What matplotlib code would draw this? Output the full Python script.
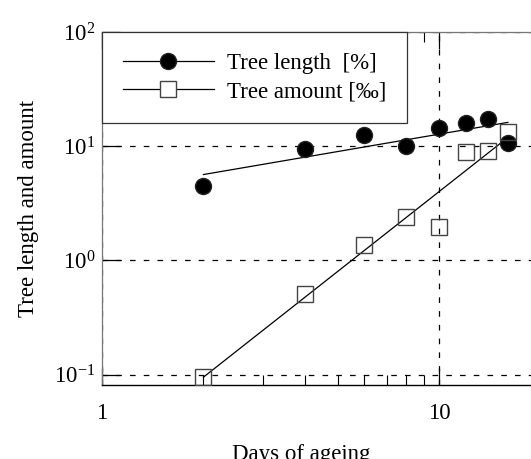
import matplotlib
matplotlib.use("Agg")
import matplotlib.pyplot as plt
import numpy as np
from matplotlib.ticker import FixedLocator, LogLocator, NullLocator, FuncFormatter

plt.rcParams['font.family'] = ['Liberation Serif', 'DejaVu Serif']
plt.rcParams['mathtext.fontset'] = 'custom'
plt.rcParams['mathtext.rm'] = 'Liberation Serif'
plt.rcParams['mathtext.it'] = 'Liberation Serif:italic'

days = np.array([2, 4, 6, 8, 10, 12, 14, 16])
tree_length = np.array([4.5, 9.4, 12.5, 10.0, 14.4, 15.9, 17.3, 10.6])
tree_amount = np.array([0.096, 0.51, 1.37, 2.38, 1.97, 8.9, 9.1, 13.3])

fs = 16.5

fig = plt.figure(figsize=(5.31, 4.59), dpi=100)
ax = fig.add_axes([0.1921, 0.1612, 0.8258, 0.7691])
ax.set_xscale('log')
ax.set_yscale('log')
ax.set_xlim(1, 20)
ax.set_ylim(10 ** -1.09, 100)

# power-law fits in log-log space
def fit_line(x, y):
    k, b = np.polyfit(np.log10(x), np.log10(y), 1)
    xx = np.logspace(np.log10(x.min()), np.log10(x.max()), 50)
    return xx, 10 ** (b + k * np.log10(xx))

xl, yl = fit_line(days, tree_length)
xa, ya = fit_line(days, tree_amount)

ax.plot(xl, yl, color='black', lw=0.9, zorder=3)
ax.plot(xa, ya, color='black', lw=0.9, zorder=3)
ax.plot(days, tree_length, 'o', ms=11.5, color='black', mec='#222222',
        zorder=4)
ax.plot(days, tree_amount, 's', ms=11.5, mfc='none', mec='#444444',
        mew=1.0, zorder=4)

# legend handles: line with marker in the middle
h1, = ax.plot([], [], '-o', color='black', lw=0.9, ms=11.5, mec='#222222')
h2, = ax.plot([], [], '-s', color='black', lw=0.9, ms=11.5, mfc='white',
              mec='#444444')
leg = ax.legend([h1, h2], ['Tree length  [%]', 'Tree amount [‰]'],
                loc='upper left', bbox_to_anchor=(0, 1), borderaxespad=0,
                fontsize=fs, numpoints=1, handlelength=4.0,
                handletextpad=0.55, borderpad=0.9, labelspacing=0.33,
                fancybox=False, framealpha=1, edgecolor='#333333')
leg.get_frame().set_linewidth(0.9)
leg.set_zorder(5)

# dashed grid at the decades
for yv in [0.1, 1, 10, 100]:
    ax.axhline(yv, color='black', lw=0.9, dashes=(4.5, 6.5), zorder=2)
for xv in [1, 10]:
    ax.axvline(xv, color='black', lw=0.9, dashes=(4.5, 6.5), zorder=2)

for side in ['left', 'top']:
    ax.spines[side].set_color('#777777')
    ax.spines[side].set_linewidth(0.9)
ax.spines['bottom'].set_linewidth(1.0)
ax.spines['right'].set_visible(False)

ax.xaxis.set_major_locator(FixedLocator([1, 10]))
ax.xaxis.set_minor_locator(LogLocator(base=10, subs=np.arange(2, 10)))
ax.xaxis.set_major_formatter(FuncFormatter(lambda v, p: '%g' % v))
ax.xaxis.set_minor_formatter(FuncFormatter(lambda v, p: ''))
ax.yaxis.set_major_locator(FixedLocator([0.1, 1, 10, 100]))
ax.yaxis.set_minor_locator(NullLocator())
ax.yaxis.set_major_formatter(FuncFormatter(
    lambda v, p: r'$\mathregular{10^{%d}}$' % round(np.log10(v))))

ax.tick_params(axis='x', which='major', direction='in', length=12, width=0.9,
               pad=13, labelsize=fs, top=True)
ax.tick_params(axis='x', which='minor', direction='in', length=7, width=0.8,
               top=True)
ax.tick_params(axis='y', which='major', direction='in', length=13, width=0.9,
               pad=5, labelsize=fs, right=False)

ax.set_xlabel('Days of ageing', fontsize=fs)
ax.xaxis.set_label_coords(0.455, -0.168)
ax.set_ylabel('Tree length and amount', fontsize=fs)
ax.yaxis.set_label_coords(-0.143, 0.5)

fig.savefig('out.png', dpi=100)
